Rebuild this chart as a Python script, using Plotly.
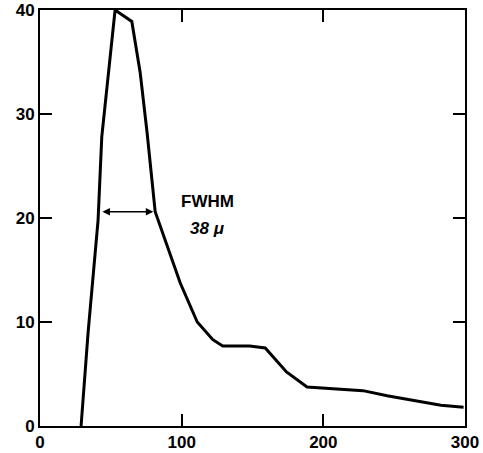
import plotly.graph_objects as go

# Data
x_pos = [29, 33.9, 41, 43.6, 53, 64.8, 70.7, 75.6, 81.3, 99, 111, 122, 129, 148, 159, 174, 188.5, 228, 245, 283, 299]
y_val = [0, 8.9, 19.8, 27.8, 40, 38.9, 34, 28.2, 20.6, 13.75, 10, 8.3, 7.7, 7.7, 7.5, 5.2, 3.75, 3.4, 2.9, 2.0, 1.8]

fwhm_left = 43
fwhm_right = 80
fwhm_level = 20.6

x_ticks = [0, 100, 200, 300]
y_ticks = [0, 10, 20, 30, 40]

FONT = "Liberation Sans"

fig = go.Figure()
fig.add_trace(go.Scatter(x=x_pos, y=y_val, mode="lines",
                         line=dict(color="black", width=3), showlegend=False,
                         hoverinfo="skip"))

fig.add_annotation(x=fwhm_right, y=fwhm_level, ax=fwhm_left, ay=fwhm_level,
                   xref="x", yref="y", axref="x", ayref="y",
                   text="", showarrow=True, arrowhead=2, arrowside="end+start",
                   arrowsize=1, arrowwidth=1.5, arrowcolor="black")
fig.add_annotation(x=118, y=21.6, xref="x", yref="y", text="FWHM", showarrow=False,
                   font=dict(family=FONT, size=17, color="black", weight="bold"))
fig.add_annotation(x=118, y=19.0, xref="x", yref="y", text="<i>38 μ</i>", showarrow=False,
                   font=dict(family=FONT, size=17, color="black", weight="bold"))

axis_common = dict(showline=True, linecolor="black", linewidth=2, mirror="ticks",
                   ticks="inside", ticklen=12, tickwidth=1.5, tickcolor="black",
                   showgrid=False, zeroline=False, automargin=False,
                   tickfont=dict(family=FONT, size=17, color="black", weight="bold"))

fig.update_xaxes(range=[0, 300], tickvals=x_ticks, ticktext=[str(v) for v in x_ticks],
                 ticklabelstandoff=0, **axis_common)
fig.update_yaxes(range=[0, 40], tickvals=y_ticks, ticktext=[str(v) for v in y_ticks],
                 ticklabelstandoff=0, **axis_common)

fig.update_layout(width=483, height=453, margin=dict(l=40, r=18, t=10, b=27, autoexpand=False),
                  plot_bgcolor="white", paper_bgcolor="white")

fig.write_html("out.html")
